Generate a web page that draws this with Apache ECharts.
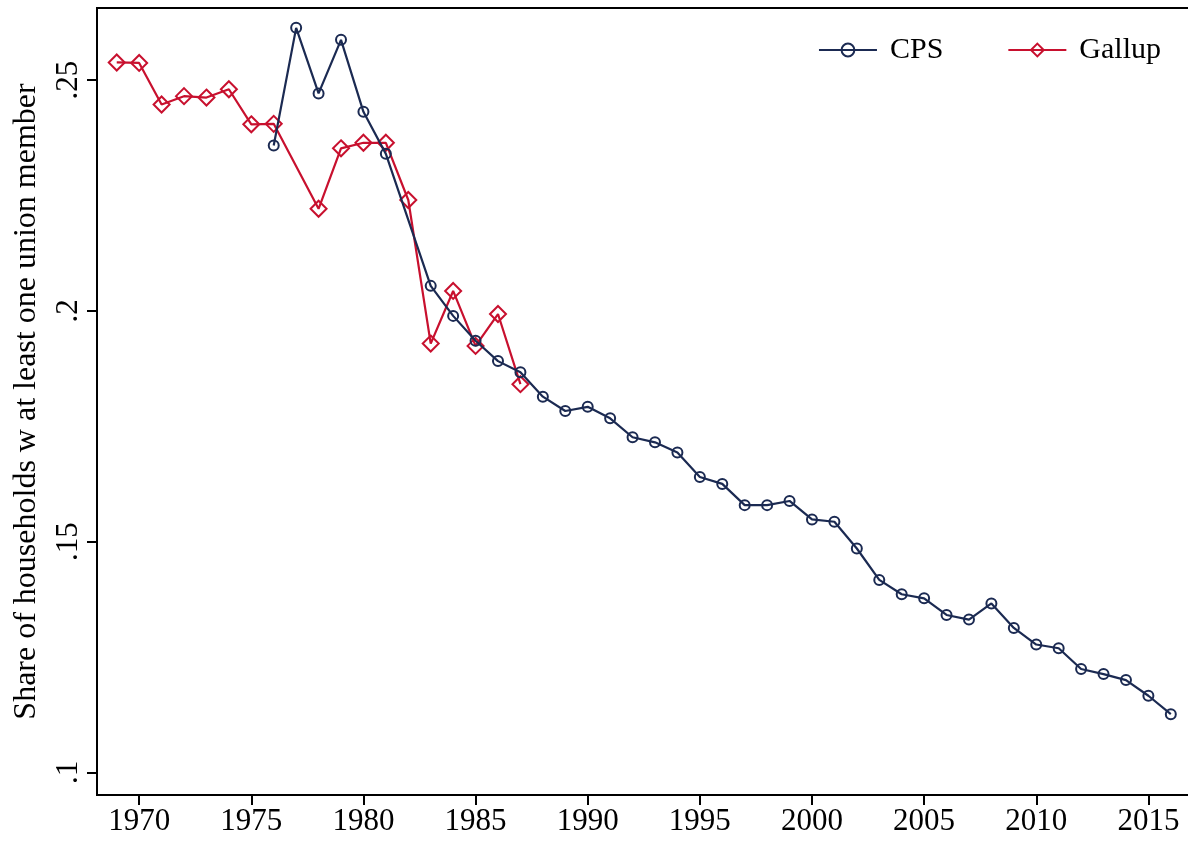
<!DOCTYPE html>
<html>
<head>
<meta charset="utf-8">
<script src="https://cdn.jsdelivr.net/npm/echarts@6/dist/echarts.min.js"></script>
<style>
  html, body { margin: 0; padding: 0; background: #fff; }
  #chart { width: 1188px; height: 844px; }
</style>
</head>
<body>
<div id="chart"></div>
<script>
// CPS survey share, 1982 missing
var cpsYears = [1976, 1977, 1978, 1979, 1980, 1981, 1983, 1984, 1985, 1986, 1987, 1988, 1989,
    1990, 1991, 1992, 1993, 1994, 1995, 1996, 1997, 1998, 1999, 2000, 2001, 2002, 2003,
    2004, 2005, 2006, 2007, 2008, 2009, 2010, 2011, 2012, 2013, 2014, 2015, 2016];
var cpsValues = [.2358, .2613, .2471, .2587, .2431, .2340, .2054, .1989, .1935, .1891, .1867, .1814, .1783,
    .1792, .1767, .1726, .1715, .1693, .1640, .1625, .1579, .1579, .1588, .1548, .1543, .1485, .1417,
    .1386, .1377, .1341, .1331, .1366, .1313, .1277, .1269, .1224, .1213, .1200, .1166, .1126];

// Gallup poll share
var gallupYears = [1969, 1970, 1971, 1972, 1973, 1974, 1975, 1976, 1978, 1979, 1980, 1981, 1982,
    1983, 1984, 1985, 1986, 1987];
var gallupValues = [.2538, .2537, .2447, .2465, .2462, .2480, .2404, .2405, .2221, .2352, .2364, .2364, .2240,
    .1929, .2043, .1924, .1993, .1841];

var xTicks = [1970, 1975, 1980, 1985, 1990, 1995, 2000, 2005, 2010, 2015];
var yTicks = [.1, .15, .2, .25];
var yTickLabels = ['.1', '.15', '.2', '.25'];

var navy = '#1b2a52';
var red = '#c8102e';
var font = 'Liberation Serif, Times New Roman, serif';

function pairs(xs, ys) {
    var out = [];
    for (var i = 0; i < xs.length; i++) out.push([xs[i], ys[i]]);
    return out;
}

var myChart = echarts.init(document.getElementById('chart'));
var option = {
    animation: false,
    backgroundColor: '#fff',
    grid: {
        left: 97, right: -3, top: 8, bottom: 49,
        outerBoundsMode: 'none',
        containLabel: false,
        show: true, borderColor: '#000', borderWidth: 2
    },
    legend: {
        right: 22, top: 30,
        itemWidth: 58, itemHeight: 16, itemGap: 64,
        textStyle: { fontFamily: font, fontSize: 30, color: '#000', padding: [0, 0, 0, 8] },
        data: ['CPS', 'Gallup']
    },
    xAxis: {
        type: 'value',
        min: 1968.12, max: 2016.9,
        interval: 5,
        splitLine: { show: false },
        axisLine: { onZero: false, lineStyle: { color: '#000', width: 2 } },
        axisTick: { length: 10, lineStyle: { color: '#000', width: 2 }, customValues: xTicks },
        axisLabel: { fontFamily: font, fontSize: 31, color: '#000', margin: 11,
            customValues: xTicks,
            formatter: function (v) { return String(v); } }
    },
    yAxis: {
        type: 'value',
        min: .0951, max: .2656,
        splitLine: { show: false },
        name: 'Share of households w at least one union member',
        nameLocation: 'middle', nameRotate: 90, nameGap: 54,
        nameTextStyle: { fontFamily: font, fontSize: 32, color: '#000' },
        axisLine: { lineStyle: { color: '#000', width: 2 } },
        axisTick: { length: 10, lineStyle: { color: '#000', width: 2 }, customValues: yTicks },
        axisLabel: { fontFamily: font, fontSize: 31, color: '#000', rotate: 90, margin: 13,
            customValues: yTicks,
            formatter: function (v) {
                for (var i = 0; i < yTicks.length; i++) {
                    if (Math.abs(v - yTicks[i]) < 1e-6) return yTickLabels[i];
                }
                return '';
            } }
    },
    series: [
        {
            name: 'CPS',
            type: 'line',
            data: pairs(cpsYears, cpsValues),
            symbol: 'circle',
            symbolSize: 10,
            lineStyle: { color: navy, width: 2.2 },
            itemStyle: { color: 'rgba(255,255,255,0)', borderColor: navy, borderWidth: 2 },
            z: 3
        },
        {
            name: 'Gallup',
            type: 'line',
            data: pairs(gallupYears, gallupValues),
            symbol: 'diamond',
            symbolSize: 16,
            lineStyle: { color: red, width: 2.2 },
            itemStyle: { color: 'rgba(255,255,255,0)', borderColor: red, borderWidth: 2 },
            z: 2
        }
    ]
};
myChart.setOption(option);
</script>
</body>
</html>
